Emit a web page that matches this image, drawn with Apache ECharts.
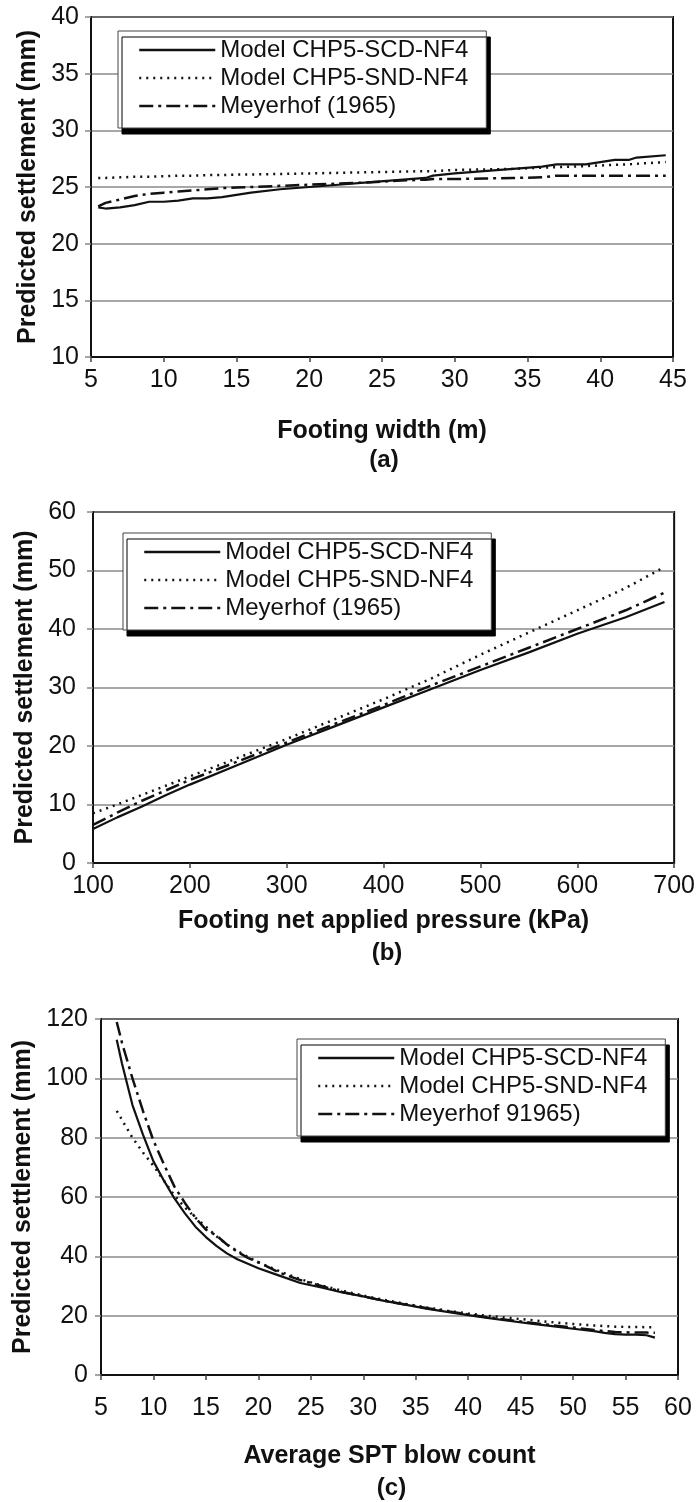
<!DOCTYPE html>
<html>
<head>
<meta charset="utf-8">
<script src="https://cdn.jsdelivr.net/npm/echarts@6/dist/echarts.min.js"></script>
<style>
html,body{margin:0;padding:0;background:#fff;}
#chart{width:698px;height:1502px;}
</style>
</head>
<body>
<div id="chart"></div>
<script>
// ---------- DATA ----------
const seriesNames = ['Model CHP5-SCD-NF4', 'Model CHP5-SND-NF4', 'Meyerhof (1965)'];
const seriesNamesC = ['Model CHP5-SCD-NF4', 'Model CHP5-SND-NF4', 'Meyerhof 91965)'];

// Panel (a): footing width (m)
const xA = [5.5, 6, 7, 8, 9, 10, 11, 12, 13, 14, 15, 16, 18, 20, 22, 24, 26, 28, 28.5, 30, 32, 34, 36, 37, 39, 40, 41, 42, 42.5, 44.5];
const scdA = [23.2, 23.1, 23.2, 23.4, 23.7, 23.7, 23.8, 24.0, 24.0, 24.1, 24.3, 24.5, 24.8, 25.0, 25.2, 25.4, 25.6, 25.8, 26.0, 26.2, 26.4, 26.6, 26.8, 27.0, 27.0, 27.2, 27.4, 27.4, 27.6, 27.8];
const sndA = [25.8, 25.8, 25.85, 25.9, 25.9, 25.95, 26.0, 26.0, 26.05, 26.05, 26.1, 26.1, 26.15, 26.2, 26.25, 26.3, 26.35, 26.4, 26.4, 26.5, 26.55, 26.6, 26.7, 26.75, 26.85, 26.9, 26.95, 27.0, 27.05, 27.2];
const meyA = [23.3, 23.6, 23.9, 24.2, 24.4, 24.5, 24.6, 24.7, 24.8, 24.9, 24.95, 25.0, 25.1, 25.2, 25.3, 25.4, 25.55, 25.65, 25.7, 25.7, 25.75, 25.8, 25.85, 26.0, 26.0, 26.0, 26.0, 26.0, 26.0, 26.0];

// Panel (b): footing net applied pressure (kPa)
const xB = [100, 125, 150, 175, 200, 250, 300, 350, 400, 450, 500, 550, 600, 650, 690];
const scdB = [5.8, 7.8, 9.6, 11.6, 13.4, 16.8, 20.2, 23.4, 26.6, 29.8, 33.0, 36.0, 39.2, 42.0, 44.6];
const sndB = [8.5, 10.0, 11.6, 13.2, 14.8, 18.0, 21.2, 24.6, 28.0, 31.6, 35.6, 39.4, 43.2, 47.0, 50.6];
const meyB = [6.5, 8.6, 10.6, 12.4, 14.2, 17.4, 20.6, 23.8, 27.0, 30.4, 33.6, 36.8, 40.0, 43.2, 46.2];

// Panel (c): average SPT blow count
const xC = [6.5, 7, 8, 9, 10, 11, 12, 13, 14, 15, 16, 17, 18, 19, 20, 22, 24, 26, 28, 30, 32, 34, 36, 38, 40, 42, 44, 46, 48, 50, 52, 53, 54, 55, 56, 57, 57.8];
const scdC = [113, 105, 91, 81, 72, 65.5, 59.5, 54.5, 50, 46.5, 43.5, 41, 39, 37.5, 36, 33.5, 31, 29.5, 27.8, 26.5, 25, 23.7, 22.4, 21.3, 20.2, 19.2, 18.2, 17.3, 16.5, 15.6, 14.8, 14.2, 13.8, 13.6, 13.6, 13.4, 12.6];
const sndC = [89, 86, 80, 75, 70.5, 65.5, 60.5, 56.5, 53, 50, 46.8, 44, 41.8, 39.8, 38, 35, 32.3, 30.2, 28.4, 26.8, 25.3, 24, 22.8, 21.7, 20.7, 19.9, 19.2, 18.5, 17.8, 17.2, 16.7, 16.5, 16.3, 16.2, 16.2, 16.1, 16.1];
const meyC = [119, 112, 100, 89, 79, 71, 63.5, 58, 53, 49, 47, 44, 41.5, 39.5, 38, 34.5, 32, 30, 28, 26.5, 25, 23.8, 22.6, 21.5, 20.4, 19.4, 18.5, 17.6, 16.8, 16, 15.2, 14.8, 14.5, 14.4, 14.3, 14.3, 14.2];

// Axis tick settings
const axisA = {xMin: 5, xMax: 45, xInt: 5, yMin: 10, yMax: 40, yInt: 5};
const axisB = {xMin: 100, xMax: 700, xInt: 100, yMin: 0, yMax: 60, yInt: 10};
const axisC = {xMin: 5, xMax: 60, xInt: 5, yMin: 0, yMax: 120, yInt: 20};

const xTitles = ['Footing width (m)', 'Footing net applied pressure (kPa)', 'Average SPT blow count'];
const yTitle = 'Predicted settlement (mm)';
const panelLabels = ['(a)', '(b)', '(c)'];

// ---------- STYLE ----------
const FONT = '"Liberation Sans", Arial, Helvetica, sans-serif';
const INK = '#111';
const lineStyles = [
  {color: INK, width: 2.2, type: 'solid'},
  {color: INK, width: 2.5, type: [2, 5]},
  {color: INK, width: 2.5, type: [14, 5, 3, 5]}
];

const grids = [
  {left: 91, top: 17, width: 582, height: 340},
  {left: 93, top: 512, width: 584, height: 351},
  {left: 101, top: 1019, width: 577, height: 356}
];
const axes = [axisA, axisB, axisC];
const labelMargins = [11, 11, 21];
const xNameGaps = [62, 46, 69];
const yLabelMargins = [12, 17, 13];
const yNameGaps = [50, 51, 57];

const pair = (xs, ys) => xs.map((x, i) => [x, ys[i]]);
const panelData = [
  [pair(xA, scdA), pair(xA, sndA), pair(xA, meyA)],
  [pair(xB, scdB), pair(xB, sndB), pair(xB, meyB)],
  [pair(xC, scdC), pair(xC, sndC), pair(xC, meyC)]
];
const panelNames = [seriesNames, seriesNames, seriesNamesC];

const option = {
  animation: false,
  backgroundColor: '#fff',
  grid: grids.map(g => Object.assign({show: true, borderColor: INK, borderWidth: 2, backgroundColor: 'transparent'}, g)),
  xAxis: axes.map((a, i) => ({
    type: 'value', gridIndex: i, min: a.xMin, max: a.xMax, interval: a.xInt,
    name: xTitles[i], nameLocation: 'middle', nameGap: xNameGaps[i],
    nameTextStyle: {fontFamily: FONT, fontWeight: 'bold', fontSize: 25, color: INK},
    axisLine: {show: true, onZero: false, lineStyle: {color: INK, width: 2}},
    axisTick: {show: true, inside: false, length: 5, lineStyle: {color: '#444', width: 1.5}},
    axisLabel: {fontFamily: FONT, fontSize: 25, color: INK, margin: labelMargins[i]},
    splitLine: {show: false}
  })),
  yAxis: axes.map((a, i) => ({
    type: 'value', gridIndex: i, min: a.yMin, max: a.yMax, interval: a.yInt,
    name: yTitle, nameLocation: 'middle', nameGap: yNameGaps[i], nameRotate: 90,
    nameTextStyle: {fontFamily: FONT, fontWeight: 'bold', fontSize: 25, color: INK},
    axisLine: {show: true, onZero: false, lineStyle: {color: INK, width: 2}},
    axisTick: {show: true, inside: false, length: 6, lineStyle: {color: '#888', width: 1.5}},
    axisLabel: {fontFamily: FONT, fontSize: 25, color: INK, margin: yLabelMargins[i]},
    splitLine: {show: true, lineStyle: {color: '#8a8a8a', width: 1.5}}
  })),
  legend: [
    {left: 118, top: 31},
    {left: 123, top: 533},
    {left: 297, top: 1039}
  ].map((p, i) => ({
    left: p.left, top: p.top, orient: 'vertical',
    data: panelNames[i].map(n => ({name: n})),
    itemStyle: {color: 'rgba(0,0,0,0)', borderColor: 'rgba(0,0,0,0)', borderWidth: 0},
    lineStyle: {width: 2.5},
    backgroundColor: '#fff', borderColor: '#444', borderWidth: 1,
    shadowColor: 'rgba(0,0,0,1)', shadowBlur: 0, shadowOffsetX: 4, shadowOffsetY: 6,
    padding: [7, 18, 10, 20], itemWidth: 76, itemHeight: 14, itemGap: 4,
    selectedMode: false,
    textStyle: {fontFamily: FONT, fontSize: 24, color: INK, lineHeight: 24}
  })),
  series: [],
  graphic: grids.map((g, i) => ({
    type: 'text',
    x: g.left + g.width / 2 + 2,
    y: [460, 953, 1488][i],
    style: {text: panelLabels[i], font: 'bold 24px ' + FONT, fill: INK, textAlign: 'center', textVerticalAlign: 'middle'}
  }))
};

panelData.forEach((sets, pi) => {
  sets.forEach((d, si) => {
    option.series.push({
      type: 'line', name: panelNames[pi][si], xAxisIndex: pi, yAxisIndex: pi,
      data: d, showSymbol: false, symbol: 'none', smooth: false,
      lineStyle: lineStyles[si], itemStyle: {color: INK}, z: 3 - si + 2
    });
  });
});

const chart = echarts.init(document.getElementById('chart'), null, {renderer: 'canvas'});
chart.setOption(option);
</script>
</body>
</html>
